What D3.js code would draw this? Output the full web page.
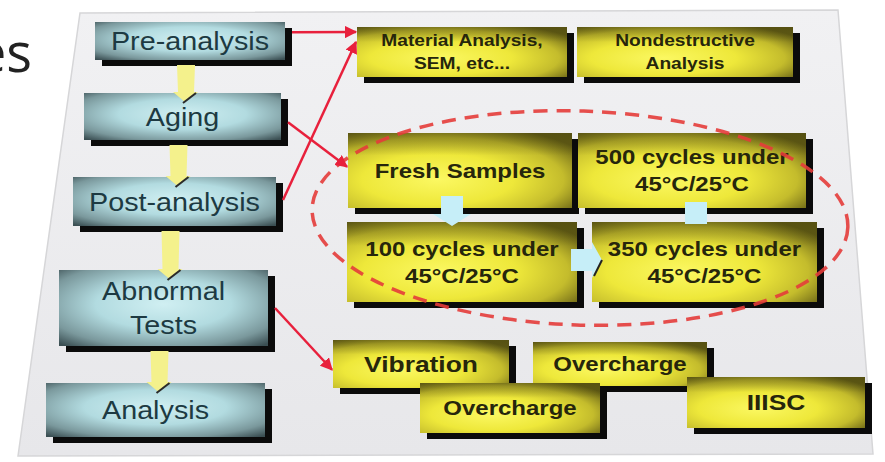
<!DOCTYPE html>
<html>
<head>
<meta charset="utf-8">
<script src="https://cdn.jsdelivr.net/npm/d3@7"></script>
<style>
  body { margin: 0; background: #fff; }
  svg { display: block; }
</style>
</head>
<body>
<div id="chart"></div>
<script>
// box labels ("|" splits lines)
const steps = ["Pre-analysis", "Aging", "Post-analysis", "Abnormal|Tests", "Analysis"];
const analysisTypes = ["Material Analysis,|SEM, etc...", "Nondestructive|Analysis"];
const cycleStages = ["Fresh Samples", "500 cycles under|45°C/25°C", "100 cycles under|45°C/25°C", "350 cycles under|45°C/25°C"];
const abuseTests = ["Vibration", "Overcharge", "Overcharge", "IIISC"];

// layout (kept apart from the labels)
const stepBoxes = [
    {x: 95, y: 22, w: 190, h: 38},
    {x: 84, y: 93, w: 197, h: 47},
    {x: 73, y: 177, w: 203, h: 49},
    {x: 59, y: 270, w: 209, h: 76},
    {x: 46, y: 383, w: 219, h: 54}
];
const analysisBoxes = [
    {x: 357, y: 27, w: 210, h: 50, fs: 16},
    {x: 577, y: 27, w: 216, h: 50, fs: 16}
];
const cycleBoxes = [
    {x: 348, y: 133, w: 224, h: 75, fs: 20},
    {x: 578, y: 133, w: 228, h: 75, fs: 20},
    {x: 347, y: 222, w: 230, h: 80, fs: 20},
    {x: 592, y: 222, w: 225, h: 80, fs: 20}
];
const abuseBoxes = [
    {x: 333, y: 340, w: 176, h: 48, fs: 22},
    {x: 533, y: 342, w: 174, h: 44, fs: 20},
    {x: 420, y: 383, w: 180, h: 50, fs: 20},
    {x: 687, y: 377, w: 178, h: 51, fs: 22}
];
const SH = 7; // shadow offset

const width = 885, height = 462;
const svg = d3.select("#chart").append("svg")
    .attr("width", width)
    .attr("height", height);

const defs = svg.append("defs");

const teal = defs.append("radialGradient").attr("id", "teal")
    .attr("cx", 0.5).attr("cy", 0.45).attr("r", 0.72);
[[0, "#d0eff2"], [0.45, "#b2dbe0"], [0.8, "#7a989c"], [1, "#3b4f53"]]
    .forEach(s => teal.append("stop").attr("offset", s[0]).attr("stop-color", s[1]));

const yel = defs.append("radialGradient").attr("id", "yel")
    .attr("cx", 0.4).attr("cy", 0.62).attr("r", 0.75);
[[0, "#fbf862"], [0.45, "#eee83a"], [0.75, "#c4bc2c"], [1, "#605a14"]]
    .forEach(s => yel.append("stop").attr("offset", s[0]).attr("stop-color", s[1]));

// darker olive band along the top edge of the yellow boxes
const topShade = defs.append("linearGradient").attr("id", "topShade")
    .attr("x1", 0).attr("y1", 0).attr("x2", 0).attr("y2", 1);
topShade.append("stop").attr("offset", 0).attr("stop-color", "#4a4610").attr("stop-opacity", 0.45);
topShade.append("stop").attr("offset", 0.3).attr("stop-color", "#4a4610").attr("stop-opacity", 0);

const panelGrad = defs.append("linearGradient").attr("id", "panel")
    .attr("x1", 0).attr("y1", 0).attr("x2", 0).attr("y2", 1);
panelGrad.append("stop").attr("offset", 0).attr("stop-color", "#f1f1f3");
panelGrad.append("stop").attr("offset", 1).attr("stop-color", "#e7e7ea");

defs.append("marker").attr("id", "redHead")
    .attr("viewBox", "0 0 10 10").attr("refX", 9).attr("refY", 5)
    .attr("markerWidth", 5).attr("markerHeight", 5)
    .attr("orient", "auto")
    .append("path").attr("d", "M0,0 L10,5 L0,10 z").attr("fill", "#e8203c");

// slide title fragment (cut at the left edge, as in the source)
svg.append("text")
    .attr("x", 32).attr("y", 72)
    .attr("text-anchor", "end")
    .attr("font-family", "Open Sans, sans-serif")
    .attr("font-size", 54)
    .attr("fill", "#222")
    .text("es");

// tilted grey panel
svg.append("path")
    .attr("d", "M80,13 L838,10 L873,454 L18,456 Z")
    .attr("fill", "url(#panel)")
    .attr("stroke", "#d6d6d8")
    .attr("stroke-width", 1.5);

function drawBoxes(boxes, labels, fill, opts) {
    const g = svg.append("g");
    const box = g.selectAll("g").data(boxes).enter().append("g");
    box.append("rect")
        .attr("x", d => d.x + SH).attr("y", d => d.y + SH - 1)
        .attr("width", d => d.w).attr("height", d => d.h)
        .attr("fill", "#0b0b0b");
    box.append("rect")
        .attr("x", d => d.x).attr("y", d => d.y)
        .attr("width", d => d.w).attr("height", d => d.h)
        .attr("fill", fill);
    if (opts.shade) {
        box.append("rect")
            .attr("x", d => d.x).attr("y", d => d.y)
            .attr("width", d => d.w).attr("height", d => d.h)
            .attr("fill", opts.shade);
    }
    box.each(function(d, i) {
        const lines = labels[i].split("|");
        const fs = d.fs || opts.fs;
        const lh = fs * opts.lh;
        const cx = d.x + d.w / 2;
        const cy = d.y + d.h / 2;
        const t = d3.select(this).append("text")
            .attr("transform", `translate(${cx},${cy}) scale(${opts.sx},1)`)
            .attr("text-anchor", "middle")
            .attr("font-family", "Liberation Sans, Arial, sans-serif")
            .attr("font-weight", opts.weight)
            .attr("font-size", fs)
            .attr("fill", opts.color);
        lines.forEach((ln, k) => {
            t.append("tspan")
                .attr("x", 0)
                .attr("y", (k - (lines.length - 1) / 2) * lh + fs * 0.36)
                .text(ln);
        });
    });
}

// left column flow
drawBoxes(stepBoxes, steps, "url(#teal)", {fs: 25, lh: 1.35, sx: 1.15, weight: "normal", color: "#1d3a42"});

// yellow arrows between the steps
const stepArrows = d3.range(steps.length - 1).map(i => {
    const a = stepBoxes[i], b = stepBoxes[i + 1];
    return {cx: a.x + a.w / 2 - 4, y0: a.y + a.h + SH - 2, y1: b.y + 9};
});
svg.append("g").selectAll("path").data(stepArrows).enter().append("path")
    .attr("d", d => `M${d.cx - 9},${d.y0} L${d.cx + 9},${d.y0} L${d.cx + 8},${d.y1 - 10}
        L${d.cx + 12},${d.y1 - 10} L${d.cx - 1},${d.y1} L${d.cx - 13},${d.y1 - 10} L${d.cx - 8},${d.y1 - 10} Z`)
    .attr("fill", "#f4f18c");
svg.append("g").selectAll("line").data(stepArrows).enter().append("line")
    .attr("x1", d => d.cx - 3).attr("y1", d => d.y1 + 1)
    .attr("x2", d => d.cx + 10).attr("y2", d => d.y1 - 9)
    .attr("stroke", "#2a2a2a").attr("stroke-width", 2);

// yellow boxes
const yOpts = {fs: 20, lh: 1.35, sx: 1.2, weight: "bold", color: "#26260c", shade: "url(#topShade)"};
drawBoxes(analysisBoxes, analysisTypes, "url(#yel)", Object.assign({}, yOpts, {lh: 1.45}));
drawBoxes(cycleBoxes, cycleStages, "url(#yel)", yOpts);
drawBoxes(abuseBoxes, abuseTests, "url(#yel)", yOpts);

// light blue arrows between cycle stages
const blue = "#c6eef8";
const fr = cycleBoxes[0], c500 = cycleBoxes[1], c100 = cycleBoxes[2], c350 = cycleBoxes[3];
const dx = fr.x + fr.w / 2 - 8, dy0 = fr.y + fr.h - 12, dy1 = c100.y + 4;
svg.append("path")
    .attr("d", `M${dx - 11},${dy0} L${dx + 11},${dy0} L${dx + 11},${dy1 - 12} L${dx + 19},${dy1 - 12}
        L${dx},${dy1} L${dx - 19},${dy1 - 12} L${dx - 11},${dy1 - 12} Z`)
    .attr("fill", blue);
const rx0 = c100.x + c100.w - 6, ry = c100.y + c100.h / 2 - 2, rx1 = c350.x + 10;
svg.append("path")
    .attr("d", `M${rx0},${ry - 11} L${rx1 - 10},${ry - 11} L${rx1 - 10},${ry - 18} L${rx1},${ry}
        L${rx1 - 10},${ry + 18} L${rx1 - 10},${ry + 11} L${rx0},${ry + 11} Z`)
    .attr("fill", blue);
svg.append("line")
    .attr("x1", rx1).attr("y1", ry).attr("x2", rx1 - 8).attr("y2", ry + 16)
    .attr("stroke", "#222").attr("stroke-width", 2);
const ux = c500.x + 118, uy0 = c350.y + 2, uy1 = c500.y + c500.h - 6;
svg.append("path")
    .attr("d", `M${ux - 11},${uy0} L${ux + 11},${uy0} L${ux + 11},${uy1} L${ux - 11},${uy1} Z`)
    .attr("fill", blue);

// red dashed ellipse round the cycling group
svg.append("ellipse")
    .attr("cx", 580).attr("cy", 218)
    .attr("rx", 268).attr("ry", 107)
    .attr("transform", "rotate(2,580,218)")
    .attr("fill", "none")
    .attr("stroke", "#e43c3a")
    .attr("stroke-width", 3.5)
    .attr("stroke-dasharray", "14 9")
    .attr("opacity", 0.9);

// red links from the flow to the detail boxes
const links = [
    {from: stepBoxes[0], fy: 0.27, to: analysisBoxes[0], ty: 0.1},
    {from: stepBoxes[2], fy: 0.47, to: analysisBoxes[0], ty: 0.3},
    {from: stepBoxes[1], fy: 0.62, to: cycleBoxes[0], ty: 0.45},
    {from: stepBoxes[3], fy: 0.5, to: abuseBoxes[0], ty: 0.62}
];
svg.append("g").selectAll("line").data(links).enter().append("line")
    .attr("x1", d => d.from.x + d.from.w + SH)
    .attr("y1", d => d.from.y + d.fy * d.from.h)
    .attr("x2", d => d.to.x - 1)
    .attr("y2", d => d.to.y + d.ty * d.to.h)
    .attr("stroke", "#e8203c")
    .attr("stroke-width", 2.5)
    .attr("marker-end", "url(#redHead)");
</script>
</body>
</html>
